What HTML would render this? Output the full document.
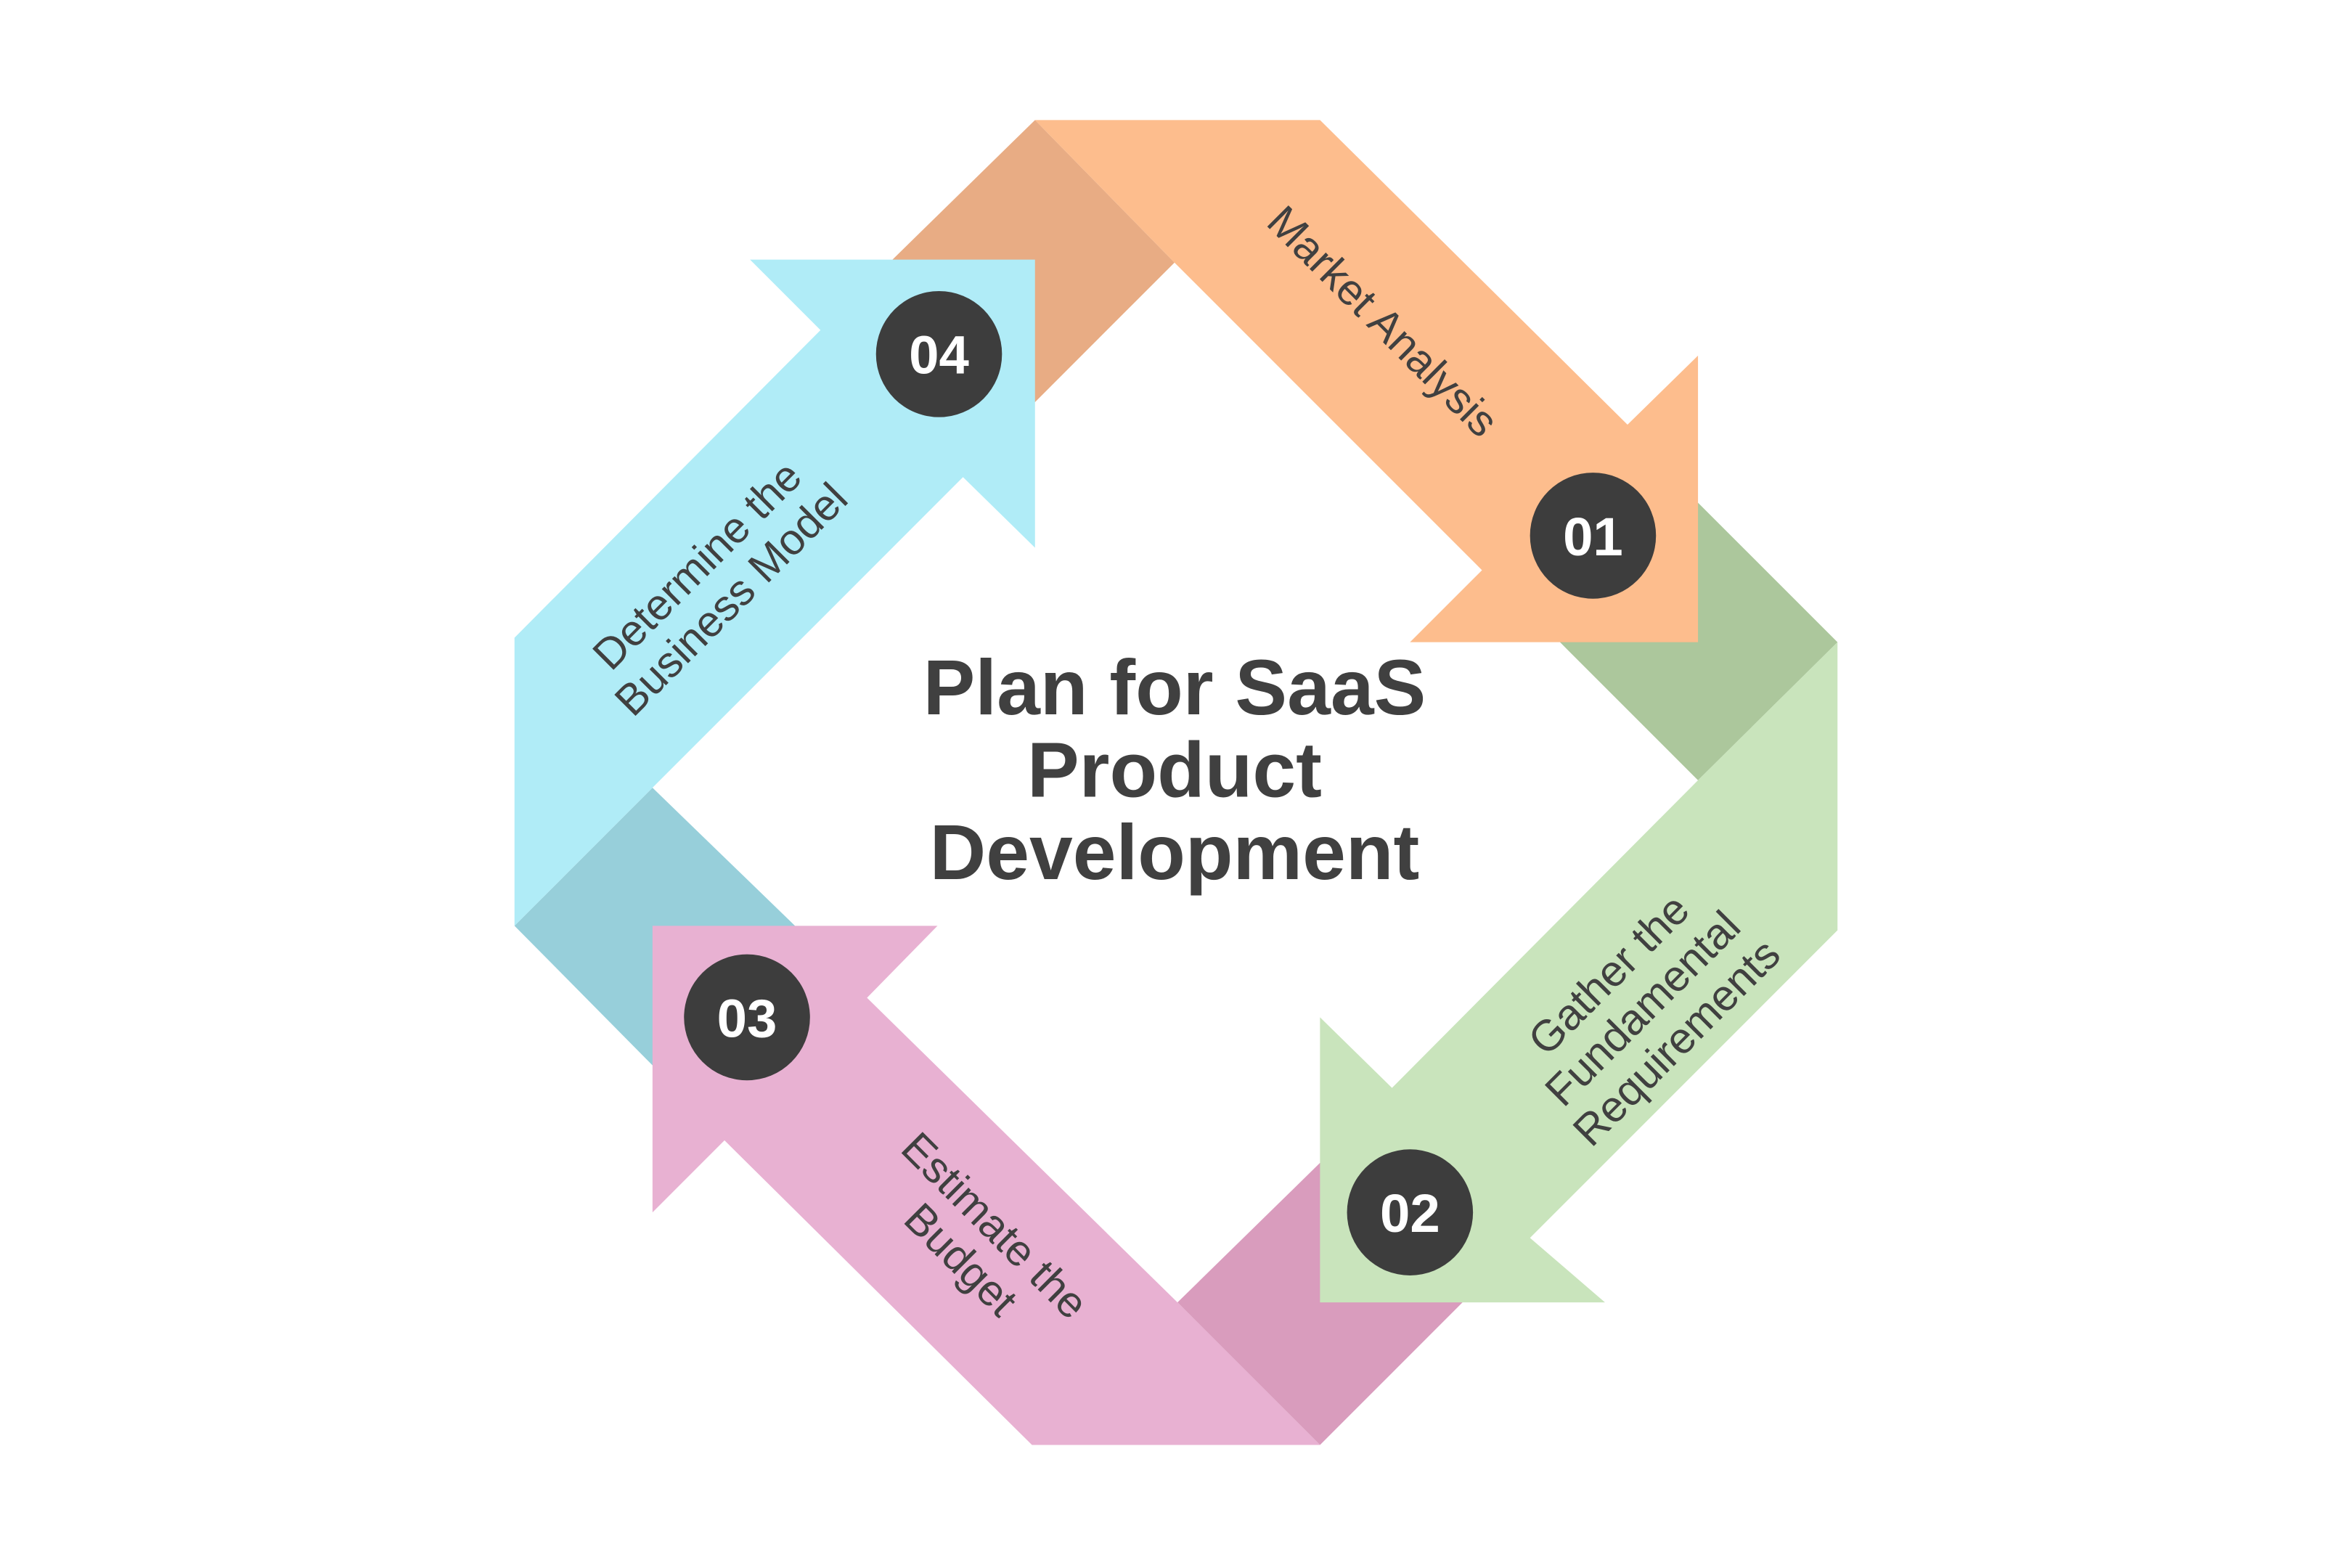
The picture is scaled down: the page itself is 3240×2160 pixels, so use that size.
<!DOCTYPE html>
<html><head><meta charset="utf-8"><style>
html,body{margin:0;padding:0;background:#fff;}
svg{display:block;}
text{font-family:"Liberation Sans",sans-serif;fill:#404040;}
</style></head><body>
<svg width="3240" height="2160" viewBox="0 0 1568 1045" preserveAspectRatio="none" xmlns="http://www.w3.org/2000/svg">
<defs>
<linearGradient id="go" x1="0" y1="0" x2="1" y2="0"><stop offset="0" stop-color="#e8ac84"/><stop offset="0.6" stop-color="#e8ac84"/><stop offset="0.85" stop-color="#cf9a74"/><stop offset="1" stop-color="#e8ac84"/></linearGradient>
</defs>
<rect width="1568" height="1045" fill="#fff"/>
<!-- folds -->
<polygon points="595,173 690,80 783,175 690,268" fill="#e8ac84"/>
<polygon points="1132,335 1225,428 1132,520 1040,428" fill="#acc79c"/>
<polygon points="880,775 975,868 880,963 785,868" fill="#d99cbd"/>
<polygon points="343,617 435,525 530,617 435,710" fill="#97cfda"/>
<!-- main arrows -->
<polygon points="690,80 880,80 1085,283 1132,237 1132,428 940,428 988,380 783,175" fill="#fdbd8d"/>
<polygon points="1225,428 1225,620 1020,825 1070,868 880,868 880,678 928,725 1132,520" fill="#c9e4bc"/>
<polygon points="880,963 688,963 483,760 435,808 435,617 625,617 578,665 785,868" fill="#e8b1d2"/>
<polygon points="343,617 343,425 547,220 500,173 690,173 690,365 642,318 435,525" fill="#b0ecf7"/>
<!-- circles -->
<circle cx="1062" cy="357" r="42" fill="#3d3d3d"/>
<circle cx="940" cy="808" r="42" fill="#3d3d3d"/>
<circle cx="498" cy="678" r="42" fill="#3d3d3d"/>
<circle cx="626" cy="236" r="42" fill="#3d3d3d"/>
<g font-weight="bold" font-size="36" text-anchor="middle" style="fill:#fff">
<text x="1062" y="370" style="fill:#fff">01</text>
<text x="940" y="821" style="fill:#fff">02</text>
<text x="498" y="691" style="fill:#fff">03</text>
<text x="626" y="249" style="fill:#fff">04</text>
</g>
<!-- title -->
<g font-weight="bold" font-size="52" text-anchor="middle">
<text x="783" y="476">Plan for SaaS</text>
<text x="783" y="531">Product</text>
<text x="783" y="586">Development</text>
</g>
<!-- labels -->
<g font-size="29" text-anchor="middle">
<text transform="translate(922,214) rotate(45)" y="10">Market Analysis</text>
<text transform="translate(1095,672) rotate(-45)"><tspan x="0" y="-22">Gather the</tspan><tspan x="0" y="10">Fundamental</tspan><tspan x="0" y="42">Requirements</tspan></text>
<text transform="translate(652,828) rotate(45)"><tspan x="0" y="-6">Estimate the</tspan><tspan x="0" y="26">Budget</tspan></text>
<text transform="translate(476,388) rotate(-45)"><tspan x="0" y="-6">Determine the</tspan><tspan x="0" y="26">Business Model</tspan></text>
</g>
</svg>
</body></html>
